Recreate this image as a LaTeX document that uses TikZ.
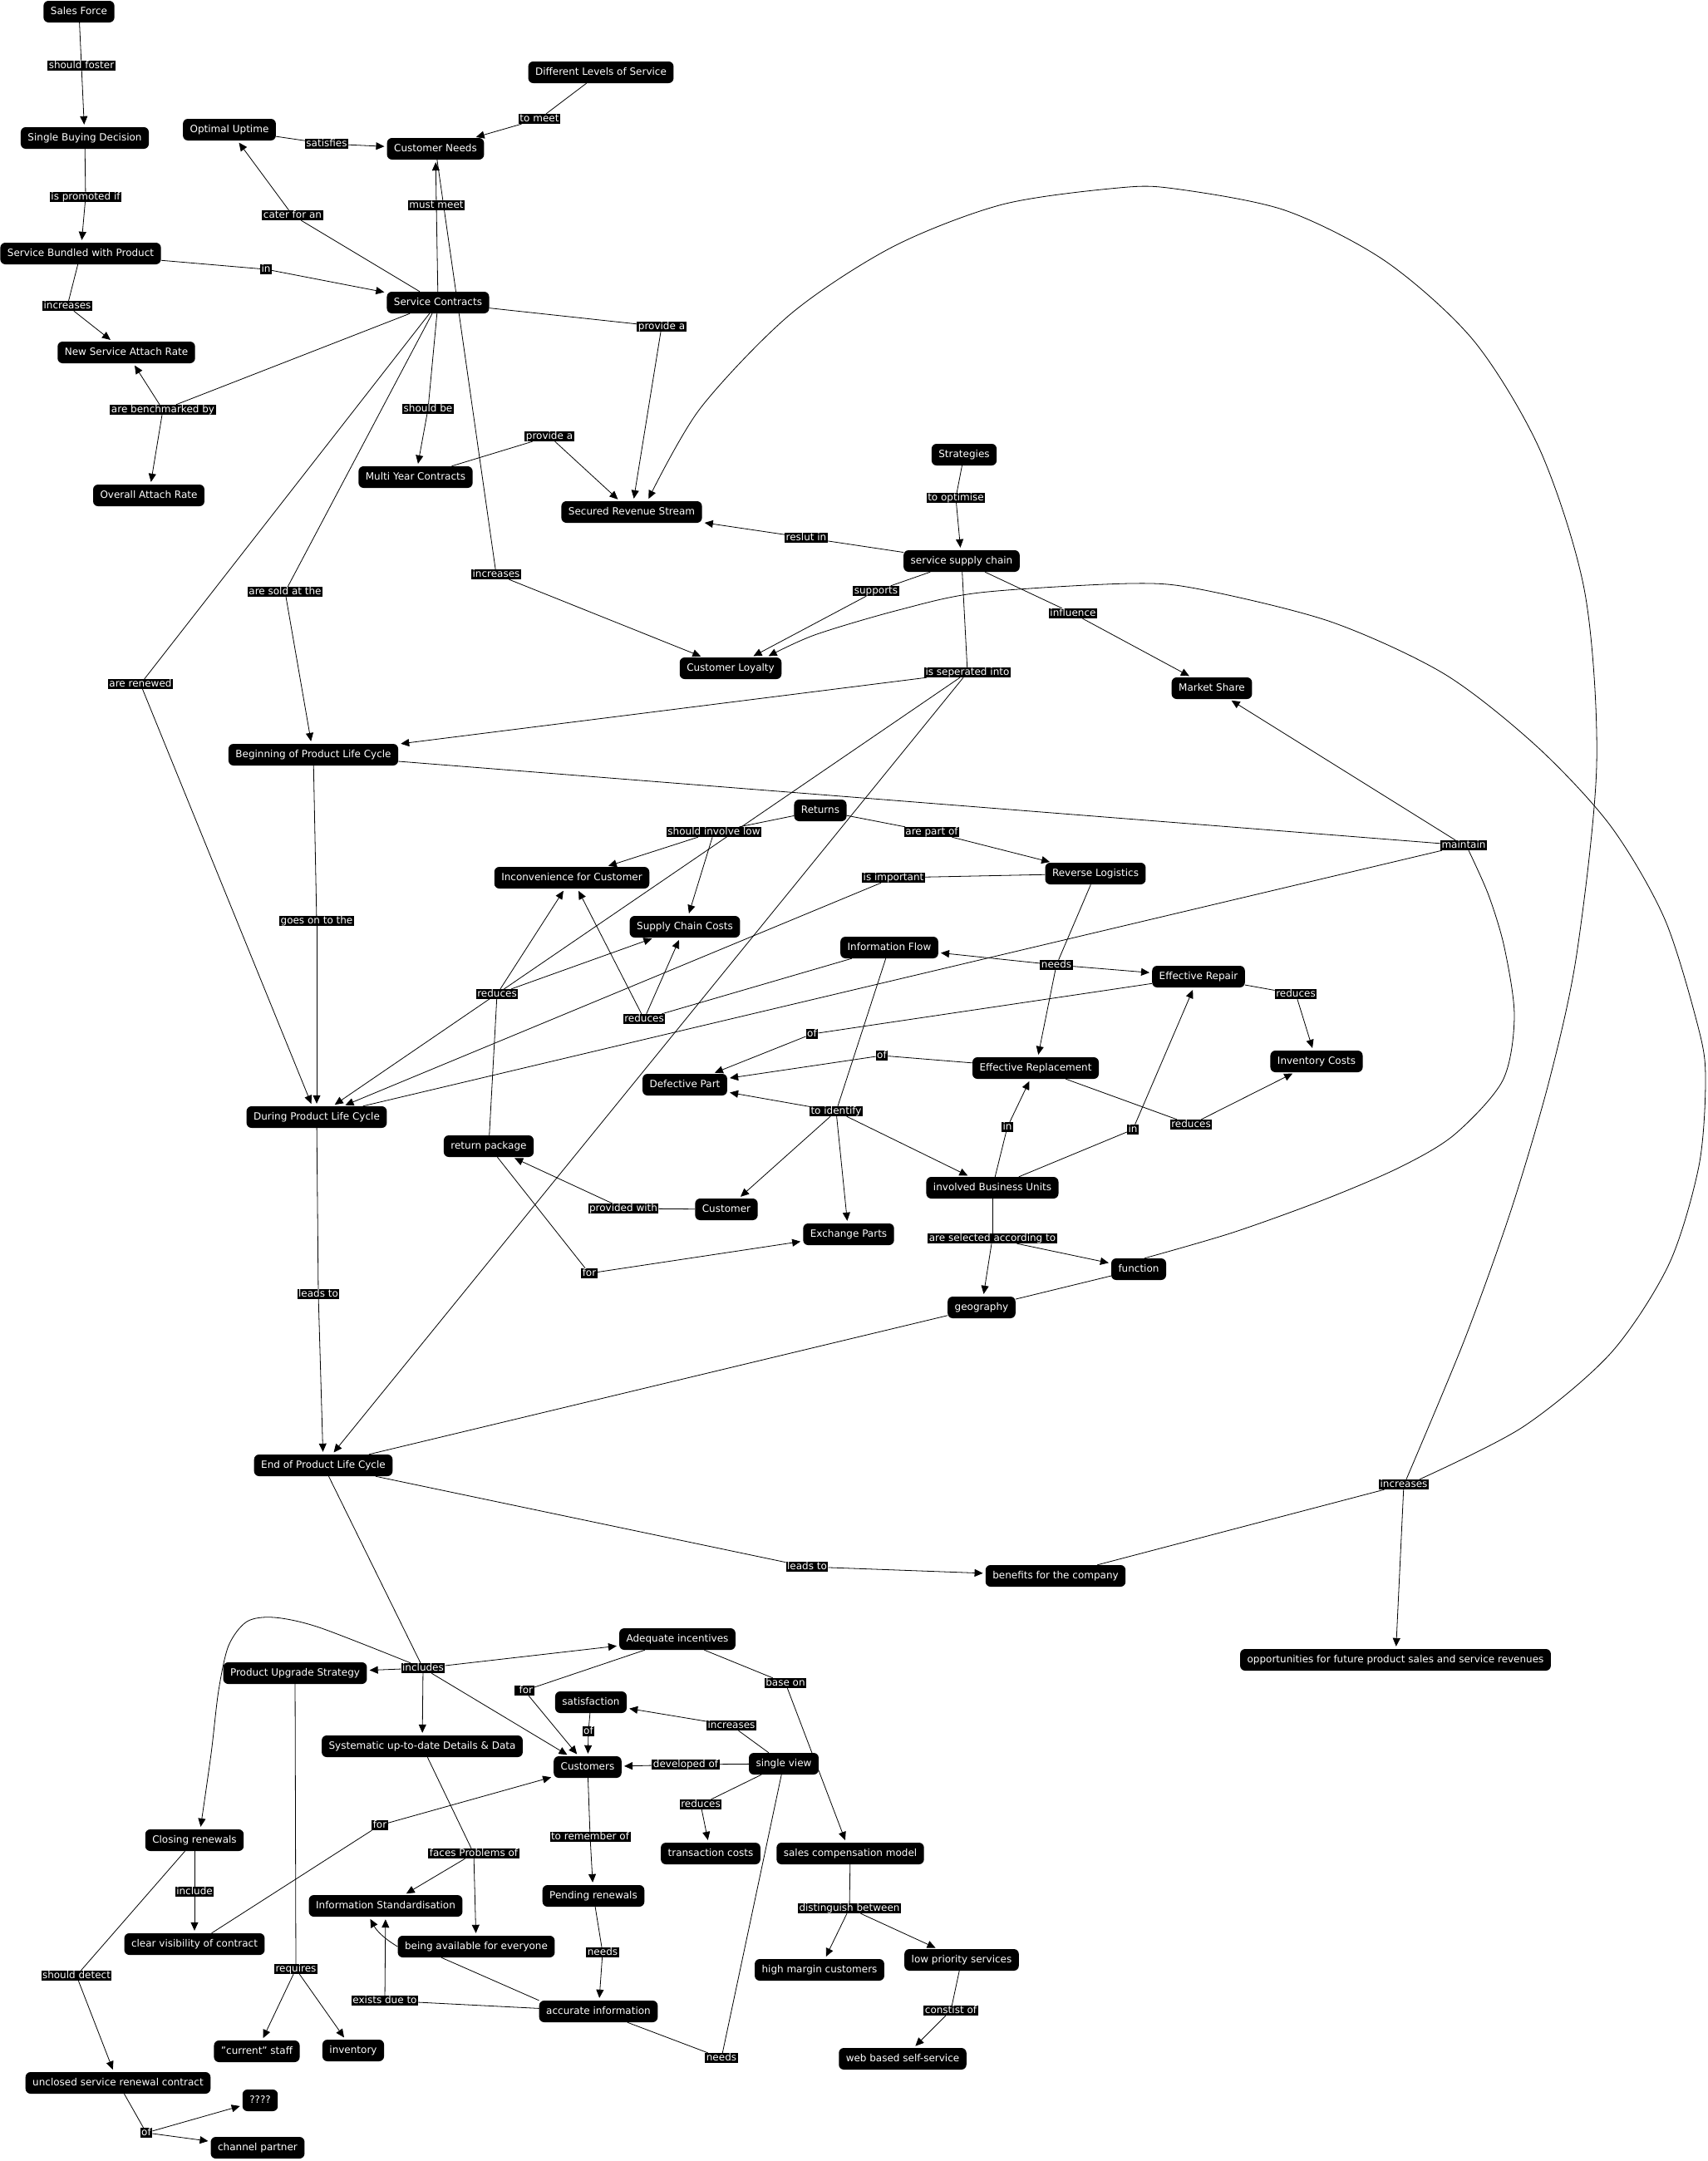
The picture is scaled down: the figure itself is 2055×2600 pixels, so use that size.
\documentclass[tikz,border=0pt]{standalone}
\usepackage{fontspec}
\setmainfont{DejaVu Sans}
\usetikzlibrary{arrows.meta, backgrounds}

\begin{document}
\begin{tikzpicture}[x=1pt, y=-1pt,
    every node/.style={font=\fontsize{12}{14}\selectfont, text=white, fill=black},
    concept/.style={rounded corners=6pt, inner xsep=8.5pt, inner ysep=7pt, text height=9.5pt, text depth=2.5pt},
    linkph/.style={inner xsep=1.5pt, inner ysep=0pt, text height=9.5pt, text depth=2.5pt},
    link/.style={draw=black, line width=0.8pt},
    arr/.style={link, -{Triangle[length=10pt,width=9pt]}, shorten >=3pt}]

	\useasboundingbox (0,0) rectangle (2055,2600);

	% Conceitos (parte de cima)
	\node[concept] (salesforce) at (95,14) {Sales Force};
	\node[concept] (single) at (102,166) {Single Buying Decision};
	\node[concept] (bundled) at (97,305) {Service Bundled with Product};
	\node[concept] (newrate) at (152,424) {New Service Attach Rate};
	\node[concept] (overall) at (179,596) {Overall Attach Rate};
	\node[concept] (uptime) at (276,156) {Optimal Uptime};
	\node[concept] (needs) at (524,179) {Customer Needs};
	\node[concept] (levels) at (723,87) {Different Levels of Service};
	\node[concept] (contracts) at (527,364) {Service Contracts};
	\node[concept] (multiyear) at (500,574) {Multi Year Contracts};
	\node[concept] (revenue) at (760,616) {Secured Revenue Stream};
	\node[concept] (strategies) at (1160,547) {Strategies};
	\node[concept] (ssc) at (1157,675) {service supply chain};
	\node[concept] (loyalty) at (879,804) {Customer Loyalty};
	\node[concept] (market) at (1458,828) {Market Share};

	% Conceitos (meio)
	\node[concept] (begin) at (377,908) {Beginning of Product Life Cycle};
	\node[concept] (returns) at (987,975) {Returns};
	\node[concept] (inconv) at (688,1056) {Inconvenience for Customer};
	\node[concept] (revlog) at (1318,1051) {Reverse Logistics};
	\node[concept] (scc) at (824,1115) {Supply Chain Costs};
	\node[concept] (infoflow) at (1070,1140) {Information Flow};
	\node[concept] (repair) at (1442,1175) {Effective Repair};
	\node[concept] (inventoryc) at (1584,1277) {Inventory Costs};
	\node[concept] (replace) at (1246,1285) {Effective Replacement};
	\node[concept] (defective) at (824,1305) {Defective Part};
	\node[concept] (during) at (381,1344) {During Product Life Cycle};
	\node[concept] (retpack) at (588,1379) {return package};
	\node[concept] (ibu) at (1194,1429) {involved Business Units};
	\node[concept] (customer) at (874,1455) {Customer};
	\node[concept] (exchange) at (1021,1485) {Exchange Parts};
	\node[concept] (function) at (1370,1527) {function};
	\node[concept] (geography) at (1181,1573) {geography};
	\node[concept] (end) at (389,1763) {End of Product Life Cycle};
	\node[concept] (benefits) at (1270,1896) {benefits for the company};
	\node[concept] (opport) at (1679,1997) {opportunities for future product sales and service revenues};

	% Conceitos (parte de baixo)
	\node[concept] (adequate) at (815,1972) {Adequate incentives};
	\node[concept] (upgrade) at (355,2013) {Product Upgrade Strategy};
	\node[concept] (satisf) at (711,2048) {satisfaction};
	\node[concept] (systematic) at (508,2101) {Systematic up-to-date Details \& Data};
	\node[concept] (customers) at (707,2126) {Customers};
	\node[concept] (singleview) at (943,2122) {single view};
	\node[concept] (closing) at (234,2214) {Closing renewals};
	\node[concept] (transc) at (855,2230) {transaction costs};
	\node[concept] (salescomp) at (1023,2230) {sales compensation model};
	\node[concept] (pending) at (714,2281) {Pending renewals};
	\node[concept] (infostd) at (464,2293) {Information Standardisation};
	\node[concept] (clearvis) at (234,2339) {clear visibility of contract};
	\node[concept] (available) at (573,2342) {being available for everyone};
	\node[concept] (highmargin) at (986,2370) {high margin customers};
	\node[concept] (lowprio) at (1157,2358) {low priority services};
	\node[concept] (accurate) at (720,2420) {accurate information};
	\node[concept] (staff) at (309,2468) {"current" staff};
	\node[concept] (inventory) at (425,2467) {inventory};
	\node[concept] (webself) at (1086,2477) {web based self-service};
	\node[concept] (unclosed) at (142,2506) {unclosed service renewal contract};
	\node[concept] (qmarks) at (313,2527) {????};
	\node[concept] (channel) at (310,2584) {channel partner};

	% Frases de ligação
	\node[linkph] (l_foster) at (98,79) {should foster};
	\node[linkph] (l_promoted) at (103,237) {is promoted if};
	\node[linkph] (l_incr1) at (81,368) {increases};
	\node[linkph] (l_in1) at (320,324) {in};
	\node[linkph] (l_satisfies) at (393,173) {satisfies};
	\node[linkph] (l_tomeet) at (649,143) {to meet};
	\node[linkph] (l_cater) at (352,259) {cater for an};
	\node[linkph] (l_mustmeet) at (525,247) {must meet};
	\node[linkph] (l_bench) at (196,493) {are benchmarked by};
	\node[linkph] (l_shouldbe) at (515,492) {should be};
	\node[linkph] (l_provide1) at (661,525) {provide a\ };
	\node[linkph] (l_provide2) at (796,393) {provide a};
	\node[linkph] (l_toopt) at (1150,599) {to optimise};
	\node[linkph] (l_reslut) at (970,647) {reslut in};
	\node[linkph] (l_supports) at (1054,711) {supports};
	\node[linkph] (l_influence) at (1291,738) {influence};
	\node[linkph] (l_incr2) at (597,691) {increases};
	\node[linkph] (l_sold) at (343,712) {are sold at the};
	\node[linkph] (l_renewed) at (169,823) {are renewed};
	\node[linkph] (l_separated) at (1164,809) {is seperated into};
	\node[linkph] (l_involve) at (859,1001) {should involve low};
	\node[linkph] (l_partof) at (1121,1001) {are part of};
	\node[linkph] (l_maintain) at (1761,1017) {maintain};
	\node[linkph] (l_important) at (1075,1056) {is important};
	\node[linkph] (l_goeson) at (381,1108) {goes on to the};
	\node[linkph] (l_needs1) at (1271,1161) {needs};
	\node[linkph] (l_reduces1) at (598,1196) {reduces};
	\node[linkph] (l_reduces2) at (775,1226) {reduces};
	\node[linkph] (l_reduces3) at (1559,1196) {reduces};
	\node[linkph] (l_of1) at (977,1244) {of};
	\node[linkph] (l_of2) at (1061,1270) {of};
	\node[linkph] (l_identify) at (1006,1337) {to identify};
	\node[linkph] (l_in2) at (1212,1356) {in};
	\node[linkph] (l_reduces4) at (1433,1353) {reduces};
	\node[linkph] (l_in3) at (1363,1359) {in};
	\node[linkph] (l_provided) at (750,1454) {provided with};
	\node[linkph] (l_selected) at (1194,1490) {are selected according to};
	\node[linkph] (l_for1) at (709,1532) {for};
	\node[linkph] (l_leadsto1) at (383,1557) {leads to};
	\node[linkph] (l_incr3) at (1689,1786) {increases};
	\node[linkph] (l_leadsto2) at (971,1885) {leads to};
	\node[linkph] (l_includes) at (509,2007) {includes};
	\node[linkph] (l_for2) at (631,2034) {\ for};
	\node[linkph] (l_baseon) at (945,2025) {base on};
	\node[linkph] (l_of3) at (708,2083) {of};
	\node[linkph] (l_incr4) at (880,2076) {increases};
	\node[linkph] (l_developed) at (825,2123) {developed of};
	\node[linkph] (l_reduces5) at (843,2171) {reduces};
	\node[linkph] (l_for3) at (457,2196) {for};
	\node[linkph] (l_toremember) at (710,2210) {to remember of};
	\node[linkph] (l_faces) at (570,2230) {faces Problems of};
	\node[linkph] (l_include) at (234,2276) {include};
	\node[linkph] (l_distinguish) at (1022,2296) {distinguish between};
	\node[linkph] (l_needs2) at (725,2349) {needs};
	\node[linkph] (l_requires) at (356,2369) {requires};
	\node[linkph] (l_detect) at (92,2377) {should detect};
	\node[linkph] (l_exists) at (463,2407) {exists due to};
	\node[linkph] (l_constist) at (1144,2419) {constist of\ };
	\node[linkph] (l_needs3) at (868,2476) {needs};
	\node[linkph] (l_of4) at (176,2566) {of};

	\begin{scope}[on background layer]
		% Service Contracts e arredores
		\draw[link] (salesforce) -- (l_foster);  \draw[arr] (l_foster) -- (single);
		\draw[link] (single) -- (l_promoted);    \draw[arr] (l_promoted) -- (bundled);
		\draw[link] (bundled) -- (l_incr1);      \draw[arr] (l_incr1) -- (newrate);
		\draw[link] (bundled) -- (l_in1);        \draw[arr] (l_in1) -- (contracts);
		\draw[link] (uptime) -- (l_satisfies);   \draw[arr] (l_satisfies) -- (needs);
		\draw[link] (levels) -- (l_tomeet);      \draw[arr] (l_tomeet) -- (needs);
		\draw[link] (contracts) -- (l_cater);    \draw[arr] (l_cater) -- (uptime);
		\draw[link] (contracts) -- (l_mustmeet); \draw[arr] (l_mustmeet) -- (needs);
		\draw[link] (contracts) -- (l_bench);
		\foreach \t in {newrate,overall} {\draw[arr] (l_bench) -- (\t);}
		\draw[link] (contracts) -- (l_shouldbe); \draw[arr] (l_shouldbe) -- (multiyear);
		\draw[link] (multiyear) -- (l_provide1); \draw[arr] (l_provide1) -- (revenue);
		\draw[link] (contracts) -- (l_provide2); \draw[arr] (l_provide2) -- (revenue);
		\draw[link] (contracts) -- (l_renewed);  \draw[arr] (l_renewed) -- (during);
		\draw[link] (contracts) -- (l_sold);     \draw[arr] (l_sold) -- (begin);
		\draw[link] (needs) -- (l_incr2);        \draw[arr] (l_incr2) -- (loyalty);

		% Cadeia de suprimentos de serviço
		\draw[link] (strategies) -- (l_toopt);   \draw[arr] (l_toopt) -- (ssc);
		\draw[link] (ssc) -- (l_reslut);         \draw[arr] (l_reslut) -- (revenue);
		\draw[link] (ssc) -- (l_supports);       \draw[arr] (l_supports) -- (loyalty);
		\draw[link] (ssc) -- (l_influence);      \draw[arr] (l_influence) -- (market);
		\draw[link] (ssc) -- (l_separated);
		\foreach \t in {begin,during,end} {\draw[arr] (l_separated) -- (\t);}

		% Retornos e logística reversa
		\draw[link] (returns) -- (l_involve);
		\foreach \t in {inconv,scc} {\draw[arr] (l_involve) -- (\t);}
		\draw[link] (returns) -- (l_partof);     \draw[arr] (l_partof) -- (revlog);
		\draw[link] (revlog) -- (l_important);   \draw[arr] (l_important) -- (during);
		\draw[link] (revlog) -- (l_needs1);
		\foreach \t in {infoflow,repair,replace} {\draw[arr] (l_needs1) -- (\t);}
		\draw[link] (retpack) -- (l_reduces1);
		\foreach \t in {inconv,scc} {\draw[arr] (l_reduces1) -- (\t);}
		\draw[link] (infoflow) -- (l_reduces2);
		\foreach \t in {inconv,scc} {\draw[arr] (l_reduces2) -- (\t);}
		\draw[link] (repair) -- (l_reduces3);    \draw[arr] (l_reduces3) -- (inventoryc);
		\draw[link] (replace) -- (l_reduces4);   \draw[arr] (l_reduces4) -- (inventoryc);
		\draw[link] (repair) -- (l_of1);         \draw[arr] (l_of1) -- (defective);
		\draw[link] (replace) -- (l_of2);        \draw[arr] (l_of2) -- (defective);
		\draw[link] (infoflow) -- (l_identify);
		\foreach \t in {defective,customer,exchange,ibu} {\draw[arr] (l_identify) -- (\t);}
		\draw[link] (ibu) -- (l_in2);            \draw[arr] (l_in2) -- (replace);
		\draw[link] (ibu) -- (l_in3);            \draw[arr] (l_in3) -- (repair);
		\draw[link] (customer) -- (l_provided);  \draw[arr] (l_provided) -- (retpack);
		\draw[link] (retpack) -- (l_for1);       \draw[arr] (l_for1) -- (exchange);
		\draw[link] (ibu) -- (l_selected);
		\foreach \t in {geography,function} {\draw[arr] (l_selected) -- (\t);}

		% Ciclo de vida e maintain
		\draw[link] (begin) -- (l_maintain);
		\draw[link] (during) -- (l_maintain);
		\draw[arr] (l_maintain) -- (market);
		\draw[link] plot[smooth] coordinates {([xshift=6pt]l_maintain.south) (1791,1077) (1810,1140) (1822,1223) (1808,1300) (1750,1365) (1685,1404) (1594,1443) (1483,1483) ([xshift=7pt]function.north)};
		\draw[link] (end) -- (geography);
		\draw[link] (geography) -- (function);
		\draw[link] (begin) -- (l_goeson);       \draw[arr] (l_goeson) -- (during);
		\draw[link] (during) -- (l_leadsto1);    \draw[arr] (l_leadsto1) -- (end);
		\draw[link] (end) -- (l_leadsto2);       \draw[arr] (l_leadsto2) -- (benefits);

		% Benefícios
		\draw[link] (benefits) -- (l_incr3);     \draw[arr] (l_incr3) -- (opport);
		\draw[arr] plot[smooth] coordinates {([xshift=3pt]l_incr3.north) (1762,1612) (1818,1456) (1864,1300) (1897,1148) (1921,920) (1907,714) (1854,544) (1774,411) (1668,315) (1546,253) (1413,227) (1346,226) (1206,246) (1074,297) (951,378) (842,492) ([xshift=19pt]revenue.north)};
		\draw[arr] plot[smooth] coordinates {([xshift=19pt]l_incr3.north) (1832,1717) (1938,1628) (2008,1521) (2044,1403) (2052,1300) (2044,1239) (2003,1106) (1938,994) (1849,898) (1738,811) (1601,748) (1444,709) (1360,702) (1179,713) (1081,734) (980,764) ([xshift=43pt]loyalty.north)};

		% Parte de baixo
		\draw[link] (end) -- (l_includes);
		\foreach \t in {upgrade,adequate,systematic,customers} {\draw[arr] (l_includes) -- (\t);}
		\draw[arr] plot[smooth] coordinates {([xshift=-15pt]l_includes.north) (384,1958) (330,1946) (297,1951) (275,1980) (263,2034) (254,2110) ([xshift=7pt]closing.north)};
		\draw[link] (adequate) -- (l_for2);      \draw[arr] (l_for2) -- (customers);
		\draw[link] (adequate) -- (l_baseon);    \draw[arr] (l_baseon) -- (salescomp);
		\draw[link] (satisf) -- (l_of3);         \draw[arr] (l_of3) -- (customers);
		\draw[link] (singleview) -- (l_incr4);   \draw[arr] (l_incr4) -- (satisf);
		\draw[link] (singleview) -- (l_developed); \draw[arr] (l_developed) -- (customers);
		\draw[link] (singleview) -- (l_reduces5);  \draw[arr] (l_reduces5) -- (transc);
		\draw[link] (singleview) -- (l_needs3);
		\draw[link] (accurate) -- (l_needs3);
		\draw[link] (customers) -- (l_toremember); \draw[arr] (l_toremember) -- (pending);
		\draw[link] (pending) -- (l_needs2);     \draw[arr] (l_needs2) -- (accurate);
		\draw[link] (systematic) -- (l_faces);
		\foreach \t in {infostd,available} {\draw[arr] (l_faces) -- (\t);}
		\draw[link] (accurate.north west) -- ([xshift=-42pt]available.south);
		\draw[arr] (available.west) to[bend left=15] ([xshift=-20pt]infostd.south);
		\draw[link] (accurate) -- (l_exists);    \draw[arr] (l_exists) -- (infostd);
		\draw[link] (upgrade) -- (l_requires);
		\foreach \t in {staff,inventory} {\draw[arr] (l_requires) -- (\t);}
		\draw[link] (closing) -- (l_include);    \draw[arr] (l_include) -- (clearvis);
		\draw[link] (clearvis) -- (l_for3);      \draw[arr] (l_for3) -- (customers);
		\draw[link] (closing) -- (l_detect);     \draw[arr] (l_detect) -- (unclosed);
		\draw[link] (unclosed) -- (l_of4);
		\foreach \t in {qmarks,channel} {\draw[arr] (l_of4) -- (\t);}
		\draw[link] (salescomp) -- (l_distinguish);
		\foreach \t in {highmargin,lowprio} {\draw[arr] (l_distinguish) -- (\t);}
		\draw[link] (lowprio) -- (l_constist);   \draw[arr] (l_constist) -- (webself);
	\end{scope}

\end{tikzpicture}
\end{document}
